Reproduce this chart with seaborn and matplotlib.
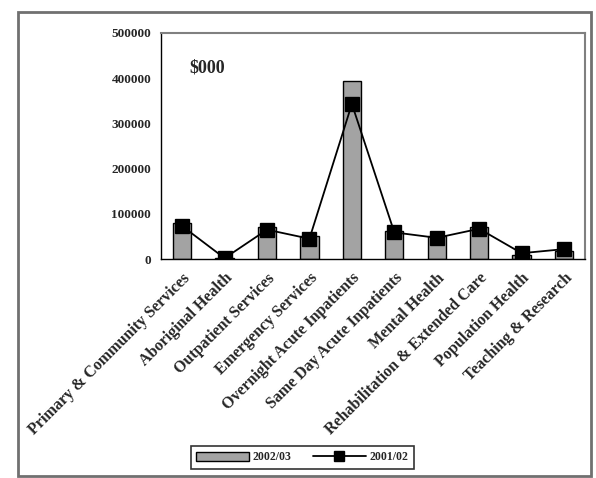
import matplotlib
matplotlib.use("Agg")
import matplotlib.pyplot as plt
import matplotlib.patches as mpatches
from matplotlib.lines import Line2D
import pandas as pd
import seaborn as sns

categories = [
    "Primary & Community Services",
    "Aboriginal Health",
    "Outpatient Services",
    "Emergency Services",
    "Overnight Acute Inpatients",
    "Same Day Acute Inpatients",
    "Mental Health",
    "Rehabilitation & Extended Care",
    "Population Health",
    "Teaching & Research",
]
spend_2002_03 = [80000, 3000, 72000, 52000, 393000, 63000, 50000, 72000, 10000, 17000]
spend_2001_02 = [73000, 2000, 65000, 45000, 343000, 59000, 47000, 67000, 13000, 22000]
yticks = [0, 100000, 200000, 300000, 400000, 500000]

df = pd.DataFrame({
    "category": categories,
    "2002/03": spend_2002_03,
    "2001/02": spend_2001_02,
})

sns.set_style("white")
plt.rcParams["font.family"] = ["Liberation Serif", "DejaVu Serif"]
plt.rcParams["font.weight"] = "bold"

fig = plt.figure(figsize=(5.96, 4.78), dpi=100)
ax = fig.add_axes([0.270, 0.458, 0.712, 0.473])

sns.barplot(data=df, x="category", y="2002/03", color="#a3a3a3",
            edgecolor="black", linewidth=1.0, width=0.43, ax=ax)
sns.pointplot(data=df, x="category", y="2001/02", color="black",
              markers="s", markersize=10, linewidth=1.3, ax=ax)

ax.set_ylim(0, 500000)
ax.set_xlim(-0.5, len(categories) - 0.5)
ax.set_yticks(yticks)
ax.set_yticklabels([str(v) for v in yticks], fontsize=9.5, fontweight="bold")
ax.set_xticks(range(len(categories)))
ax.set_xticklabels(categories, rotation=45, ha="right", rotation_mode="anchor",
                   fontsize=11.5, fontweight="bold")
ax.set_xlabel("")
ax.set_ylabel("")

# boundary ticks between categories, Excel style
ax.set_xticks([i - 0.5 for i in range(len(categories) + 1)], minor=True)
ax.tick_params(axis="x", which="major", length=0, pad=8)
ax.tick_params(axis="x", which="minor", length=4, width=0.8, direction="out", color="black")
ax.tick_params(axis="y", length=4, width=0.8, direction="out", color="black", pad=3)

for side in ["top", "right"]:
    ax.spines[side].set_color("#808080")
    ax.spines[side].set_linewidth(1.5)
for side in ["left", "bottom"]:
    ax.spines[side].set_color("black")
    ax.spines[side].set_linewidth(1.0)

ax.text(0.068, 0.845, "$000", transform=ax.transAxes, fontsize=13,
        fontweight="bold", ha="left", va="center")

handles = [
    mpatches.Patch(facecolor="#a3a3a3", edgecolor="black", linewidth=1.0, label="2002/03"),
    Line2D([0], [0], color="black", marker="s", markersize=7, linewidth=1.3, label="2001/02"),
]
leg = fig.legend(handles=handles, loc="center", bbox_to_anchor=(0.507, 0.043),
                 ncol=2, fontsize=8.5, frameon=True, fancybox=False,
                 handlelength=4.5, handleheight=0.8, columnspacing=1.8,
                 borderpad=0.45, handletextpad=0.3)
leg.get_frame().set_edgecolor("black")
leg.get_frame().set_linewidth(1.2)

# outer chart border
fig.patches.append(mpatches.Rectangle((0.030, 0.004), 0.962, 0.971,
                                      transform=fig.transFigure, fill=False,
                                      edgecolor="#707070", linewidth=2))

fig.savefig("out.png", dpi=100)
